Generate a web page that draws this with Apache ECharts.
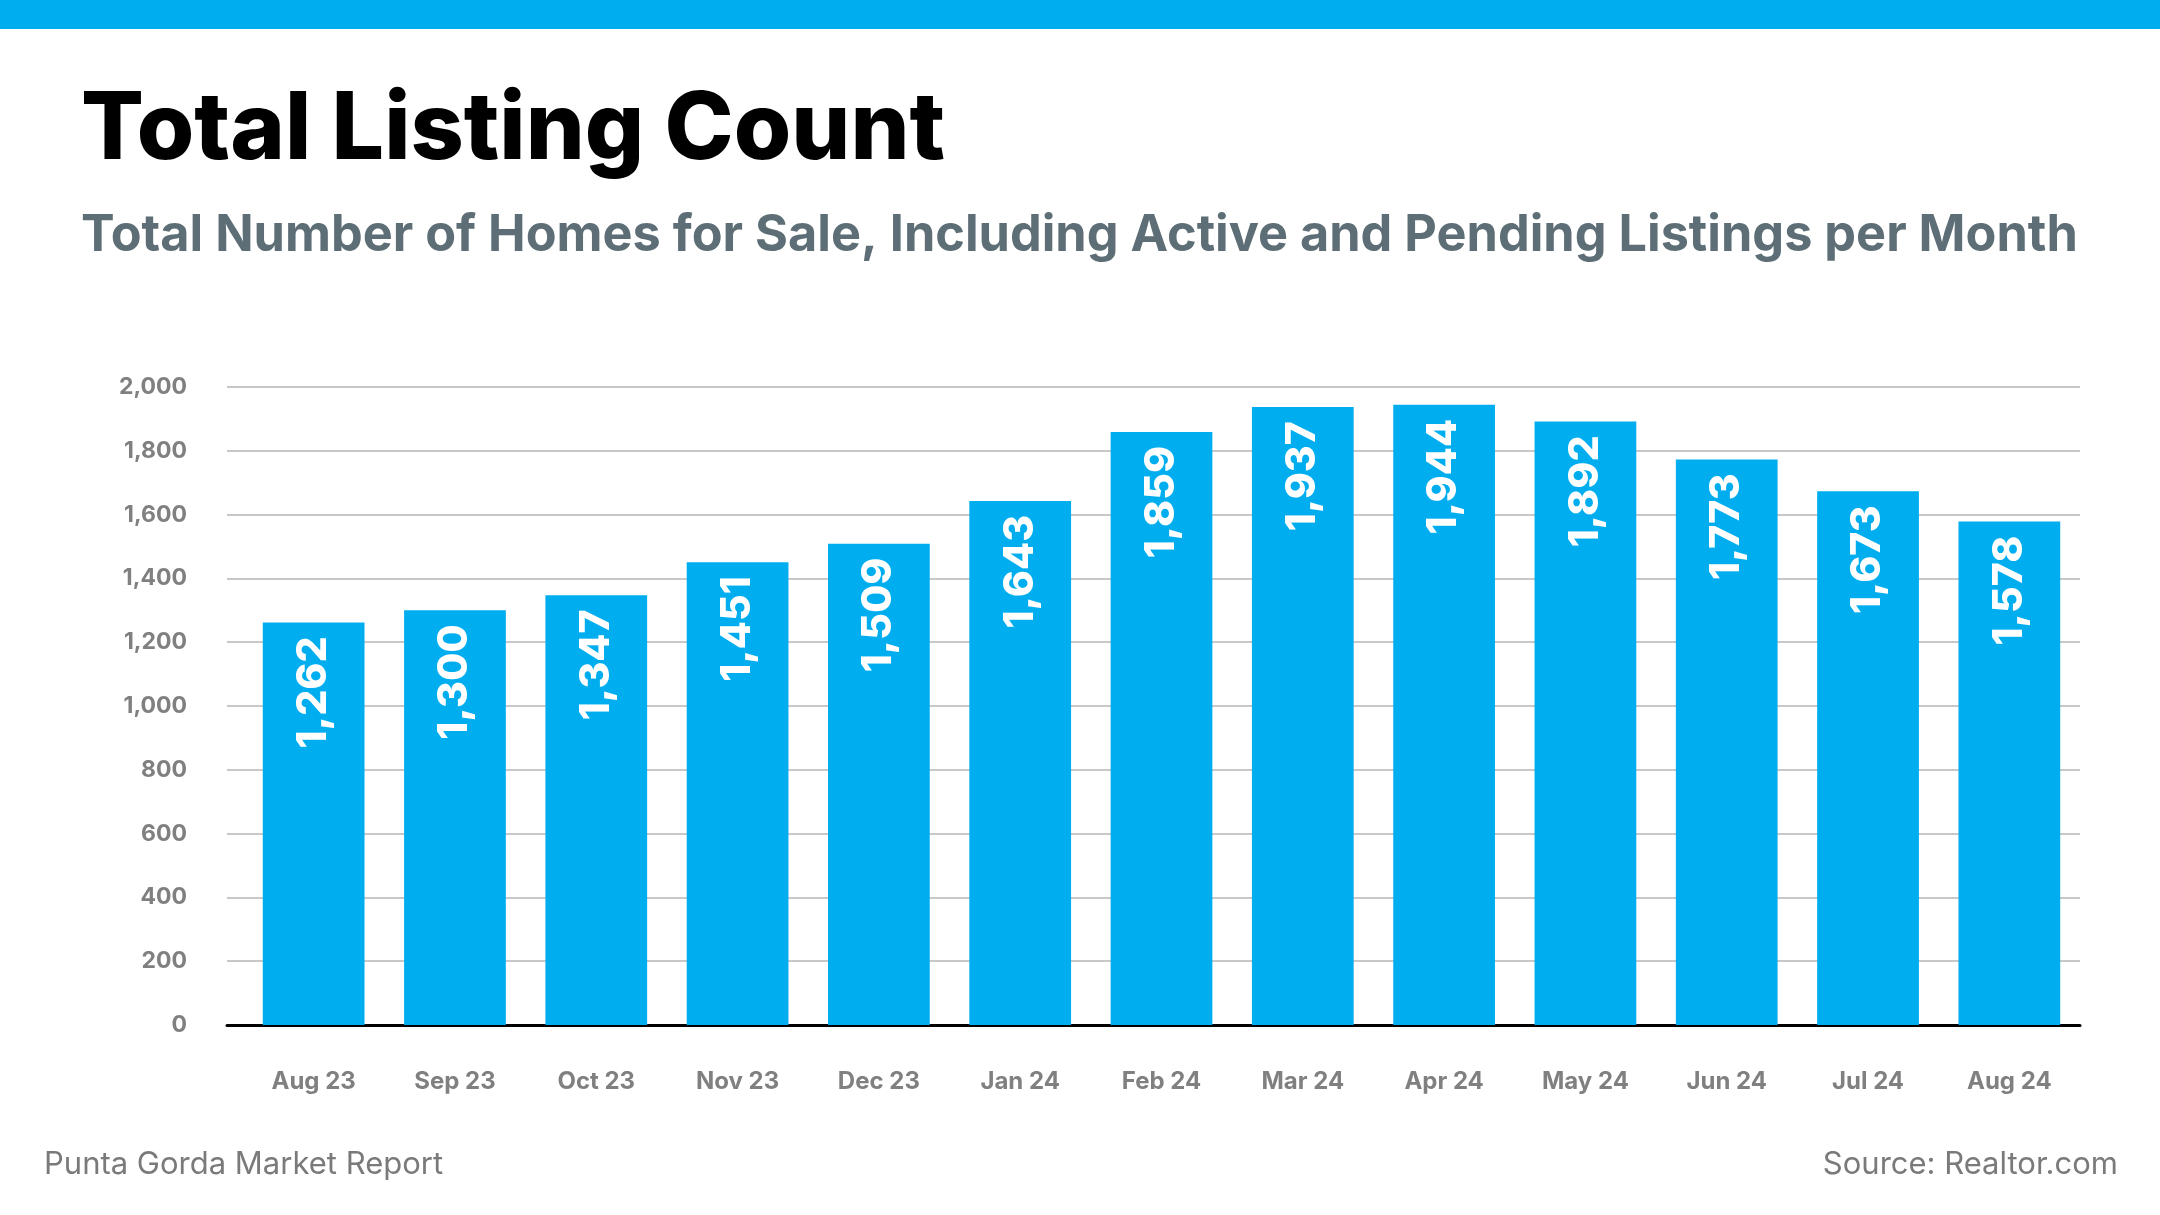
<!DOCTYPE html>
<html>
<head>
<meta charset="utf-8">
<script src="https://cdn.jsdelivr.net/npm/echarts@6/dist/echarts.min.js"></script>
<style>
html,body{margin:0;padding:0;background:#fff;}
#c{width:2160px;height:1215px;}
</style>
</head>
<body>
<div id="c"></div>
<script>
const categories = ['Aug 23','Sep 23','Oct 23','Nov 23','Dec 23','Jan 24','Feb 24','Mar 24','Apr 24','May 24','Jun 24','Jul 24','Aug 24'];
const listingCounts = [1262, 1300, 1347, 1451, 1509, 1643, 1859, 1937, 1944, 1892, 1773, 1673, 1578];
const titleText = 'Total Listing Count';
const subtitleText = 'Total Number of Homes for Sale, Including Active and Pending Listings per Month';
const footerLeft = 'Punta Gorda Market Report';
const footerRight = 'Source: Realtor.com';

const FONT = 'Inter';
const BLUE = '#00AEEF';
const fmt = v => Number(v).toLocaleString('en-US');

const chart = echarts.init(document.getElementById('c'));
chart.setOption({
  backgroundColor: '#ffffff',
  animation: false,
  graphic: [
    { type: 'rect', left: 0, top: 0, shape: { width: 2160, height: 29 }, style: { fill: BLUE } }
  ],
  title: [
    { text: titleText, left: 76, top: 76,
      textStyle: { fontFamily: FONT, fontWeight: 800, fontSize: 93, color: '#000', lineHeight: 100 } },
    { text: subtitleText, left: 76, top: 201,
      textStyle: { fontFamily: FONT, fontWeight: 700, fontSize: 50.4, color: '#5E6E76', lineHeight: 60 } },
    { text: footerLeft, left: 39, top: 1140,
      textStyle: { fontFamily: FONT, fontWeight: 400, fontSize: 31, color: '#7A7A7A', lineHeight: 40 } },
    { text: footerRight, right: 37, top: 1140,
      textStyle: { fontFamily: FONT, fontWeight: 400, fontSize: 31, color: '#7A7A7A', lineHeight: 40 } }
  ],
  grid: [
    { left: 227, right: 80, top: 387, bottom: 190 },
    { left: 243, right: 80, top: 387, bottom: 190 }
  ],
  xAxis: [
    {
      gridIndex: 0, type: 'value', min: 0, max: 1,
      axisLine: { show: true, onZero: false, lineStyle: { color: '#000', width: 3 } },
      axisTick: { show: false }, axisLabel: { show: false }, splitLine: { show: false }
    },
    {
      gridIndex: 1, type: 'category', data: categories,
      axisLine: { show: false },
      axisTick: { show: false },
      axisLabel: { margin: 45, fontFamily: FONT, fontWeight: 700, fontSize: 24, color: '#808080' }
    }
  ],
  yAxis: [
    {
      gridIndex: 0, type: 'value', min: 0, max: 2000, interval: 200,
      axisLine: { show: false }, axisTick: { show: false },
      splitLine: { lineStyle: { color: '#C8C8C8', width: 2 } },
      axisLabel: { margin: 40, fontFamily: FONT, fontWeight: 700, fontSize: 23, color: '#808080', formatter: fmt }
    },
    {
      gridIndex: 1, type: 'value', min: 0, max: 2000, interval: 200,
      axisLine: { show: false }, axisTick: { show: false },
      splitLine: { show: false }, axisLabel: { show: false }
    }
  ],
  series: [{
    type: 'bar',
    xAxisIndex: 1, yAxisIndex: 1,
    data: listingCounts,
    barCategoryGap: '28%',
    itemStyle: { color: BLUE },
    z: 1,
    label: {
      show: true,
      position: 'insideTop',
      rotate: 90,
      align: 'right',
      verticalAlign: 'middle',
      distance: 14,
      fontFamily: FONT,
      fontWeight: 800,
      fontSize: 41,
      color: '#ffffff',
      formatter: p => fmt(p.value)
    }
  }]
});
</script>
</body>
</html>
